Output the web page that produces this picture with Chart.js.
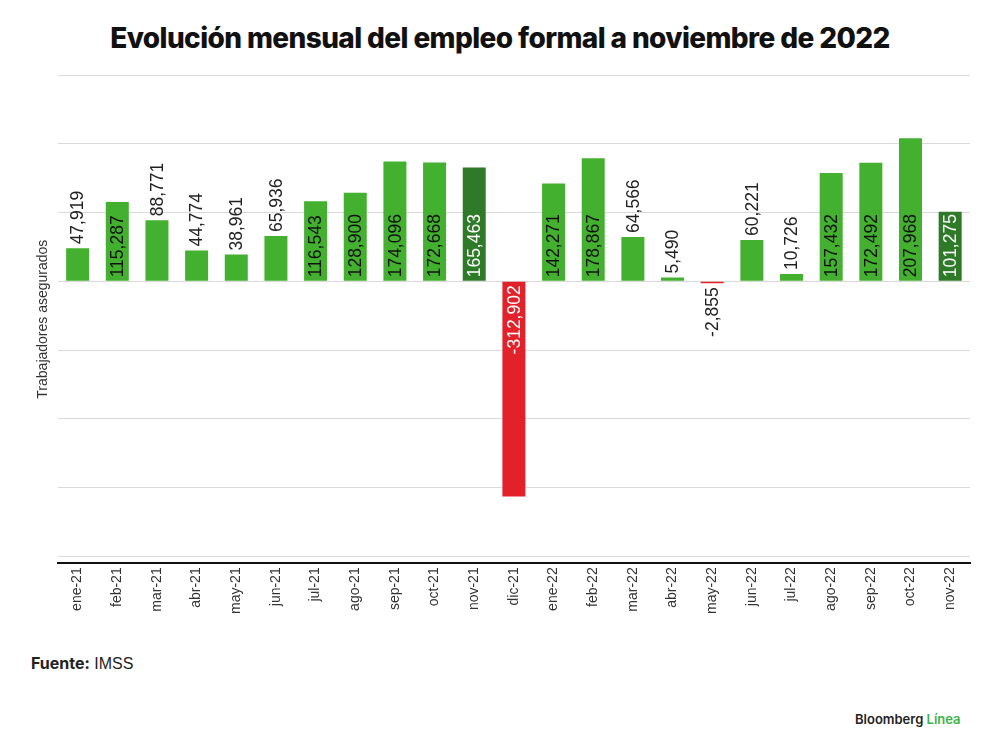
<!DOCTYPE html>
<html lang="es">
<head>
<meta charset="utf-8">
<script src="https://cdn.jsdelivr.net/npm/chart.js@4"></script>
<style>
    body { margin: 0; background: #fff; }
    #page { position: relative; width: 1000px; height: 756px; overflow: hidden; font-family: "Liberation Sans", Arial, sans-serif; }
    #title { position: absolute; left: 0; top: 21px; width: 1000px; text-align: center; font-family: Inter, sans-serif; font-weight: 800; font-size: 28px; letter-spacing: -0.6px; color: #111; }
    #chartBox { position: absolute; left: 0; top: 0; width: 1000px; height: 618px; }
    #source { position: absolute; left: 31px; top: 653px; font-size: 16px; color: #222; }
    #source b { font-family: Inter, sans-serif; font-weight: 700; }
    #brand { position: absolute; left: 855px; top: 711px; font-family: Inter, sans-serif; font-weight: 600; font-size: 13px; color: #222; }
    #brand span { color: #3cb44b; }
</style>
</head>
<body>
<div id="page">
    <div id="title">Evolución mensual del empleo formal a noviembre de 2022</div>
    <div id="chartBox"><canvas id="empleoChart"></canvas></div>
    <div id="source"><b>Fuente:</b> IMSS</div>
    <div id="brand">Bloomberg <span>Línea</span></div>
</div>
<script>
const months = ['ene-21', 'feb-21', 'mar-21', 'abr-21', 'may-21', 'jun-21', 'jul-21', 'ago-21', 'sep-21', 'oct-21', 'nov-21', 'dic-21',
                'ene-22', 'feb-22', 'mar-22', 'abr-22', 'may-22', 'jun-22', 'jul-22', 'ago-22', 'sep-22', 'oct-22', 'nov-22'];
const empleo = [47919, 115287, 88771, 44774, 38961, 65936, 116543, 128900, 174096, 172668, 165463, -312902,
                142271, 178867, 64566, 5490, -2855, 60221, 10726, 157432, 172492, 207968, 101275];
const gridTicks = [-400000, -300000, -200000, -100000, 0, 100000, 200000, 300000];

const GREEN = '#43b02f';
const DARK_GREEN = '#2f7a28';
const RED = '#e2212a';

function barColor(value, i) {
    if (value < 0) return RED;
    if (months[i].startsWith('nov')) return DARK_GREEN;
    return GREEN;
}

// etiquetas rotadas: dentro de la barra si es grande, fuera si es pequeña
const barLabels = {
    id: 'barLabels',
    afterDatasetsDraw(chart) {
        const ctx = chart.ctx;
        const meta = chart.getDatasetMeta(0);
        const yScale = chart.scales.y;
        const zeroY = yScale.getPixelForValue(0);
        ctx.save();
        ctx.font = '17.5px "Liberation Sans", Arial, sans-serif';
        ctx.textBaseline = 'middle';
        meta.data.forEach((bar, i) => {
            const value = empleo[i];
            const text = value.toLocaleString('en-US');
            const inside = Math.abs(value) >= 100000;
            const color = barColor(value, i);
            let y, align;
            if (value >= 0) {
                y = inside ? zeroY - 4 : bar.y - 4;
                align = 'left';
            } else {
                y = inside ? zeroY + 4 : bar.y + 4;
                align = 'right';
            }
            if (inside) {
                ctx.fillStyle = color === GREEN ? '#111' : '#fff';
            } else {
                ctx.fillStyle = '#222';
            }
            ctx.save();
            ctx.translate(bar.x, y);
            ctx.rotate(-Math.PI / 2);
            ctx.textAlign = align;
            ctx.fillText(text, 0, 1);
            ctx.restore();
        });
        ctx.restore();
    }
};

const ctx = document.getElementById('empleoChart').getContext('2d');
new Chart(ctx, {
    type: 'bar',
    data: {
        labels: months,
        datasets: [{
            label: 'Trabajadores asegurados',
            data: empleo,
            backgroundColor: empleo.map(barColor),
            borderWidth: 0,
            barPercentage: 0.58,
            categoryPercentage: 1
        }]
    },
    options: {
        responsive: true,
        maintainAspectRatio: false,
        animation: false,
        layout: {
            padding: { left: 35, right: 30, top: 75, bottom: 0 }
        },
        plugins: {
            legend: { display: false },
            tooltip: { enabled: false }
        },
        scales: {
            x: {
                grid: { display: false, drawTicks: false },
                border: { display: true, color: '#111', width: 2 },
                ticks: {
                    minRotation: 90,
                    maxRotation: 90,
                    padding: 4,
                    color: '#333',
                    font: { family: '"Liberation Sans", Arial, sans-serif', size: 14 }
                }
            },
            y: {
                min: -410000,
                max: 300000,
                afterBuildTicks: (scale) => {
                    scale.ticks = gridTicks.map(v => ({ value: v }));
                },
                grid: { color: '#d9d9d9', lineWidth: 1, drawTicks: false },
                border: { display: false },
                ticks: { display: false },
                title: {
                    display: true,
                    text: 'Trabajadores asegurados',
                    color: '#333',
                    padding: { top: 0, bottom: 6 },
                    font: { family: '"Liberation Sans", Arial, sans-serif', size: 14 }
                }
            }
        }
    },
    plugins: [barLabels]
});
</script>
</body>
</html>
